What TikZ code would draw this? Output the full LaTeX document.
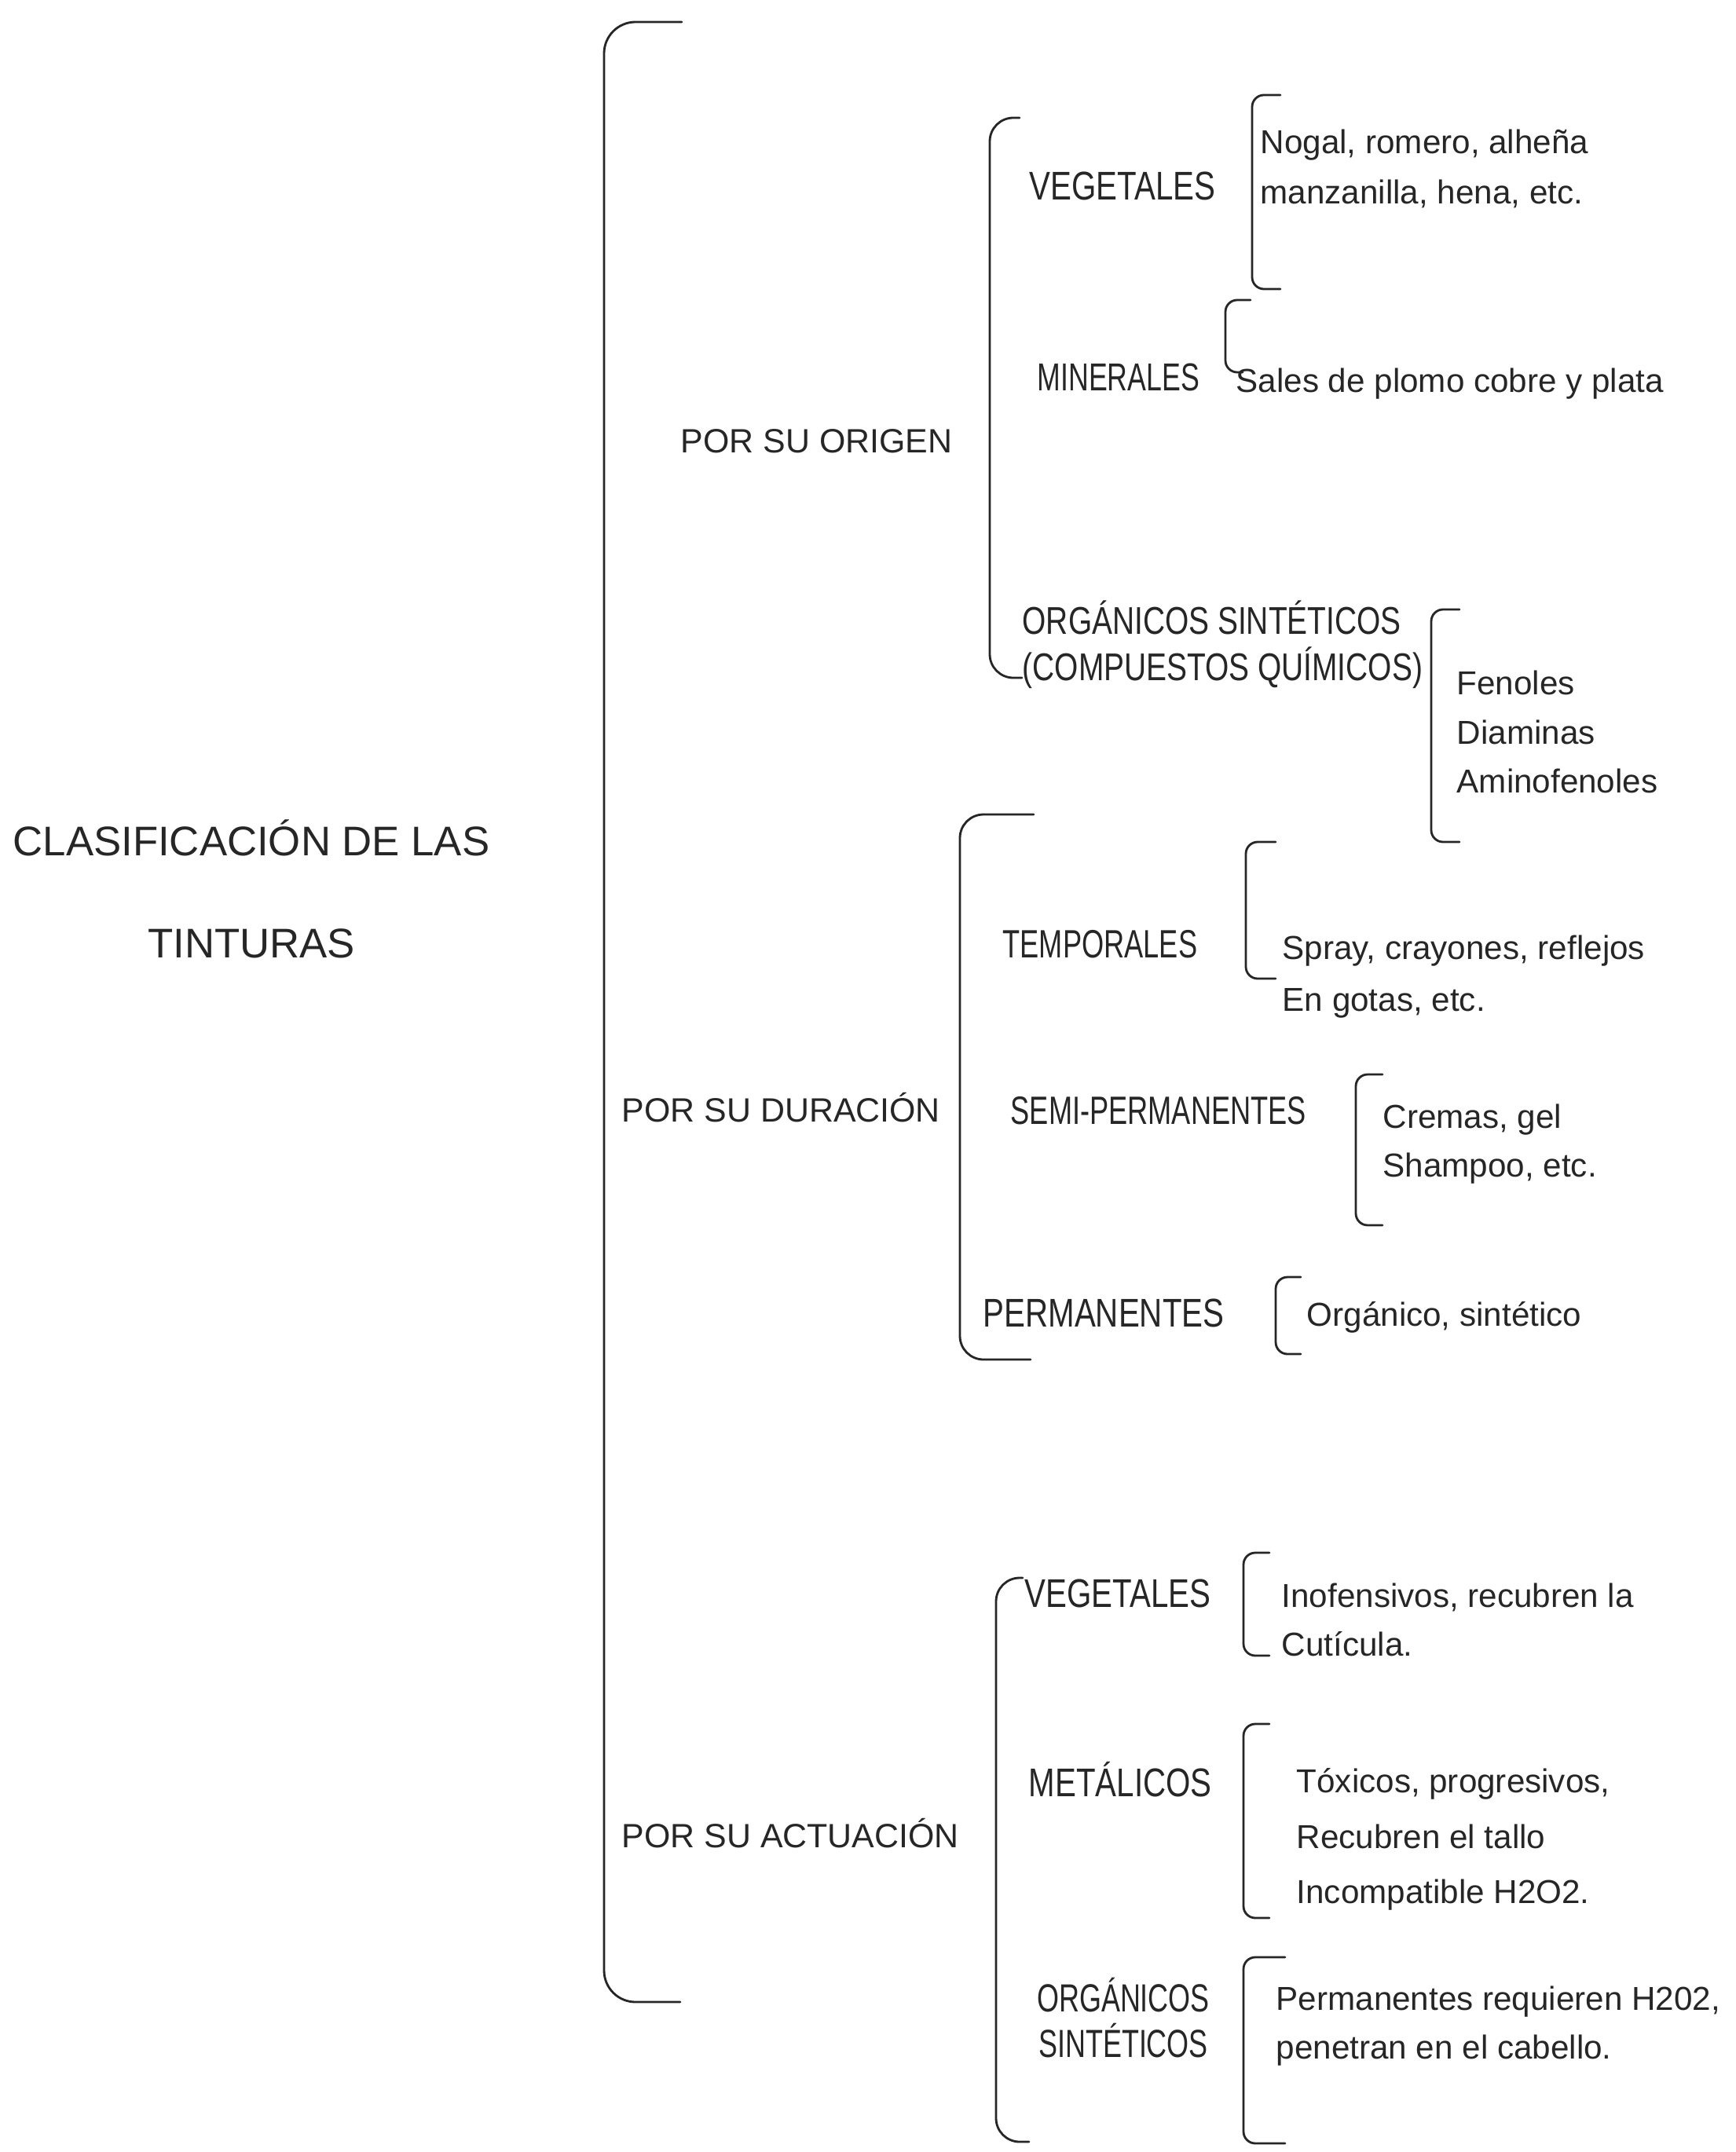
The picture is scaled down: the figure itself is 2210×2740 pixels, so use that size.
\documentclass[tikz,border=0pt]{standalone}
\usepackage{fontspec}
\setmainfont{Liberation Sans}
\newfontfamily\narrowfont{Liberation Sans}[FakeStretch=0.72]
\newfontfamily\semifont{Liberation Sans}[FakeStretch=0.79]
\usepackage{tikz}

\begin{document}
\begin{tikzpicture}
			[x=0.01cm,y=-0.01cm,line cap=round,
			%Styles
			title/.style={align=center,inner sep=0pt,text=inkcolor,font=\fontsize{15}{37}\selectfont},
			branch/.style={anchor=west,inner sep=0pt,text=inkcolor,font=\fontsize{12.2}{14}\selectfont},
			kind/.style={anchor=west,inner sep=0pt,text=inkcolor,font=\narrowfont\fontsize{14.3}{16.8}\selectfont},
			wide kind/.style={kind,font=\semifont\fontsize{14.5}{16.8}\selectfont},
			detail/.style={anchor=west,align=left,inner sep=0pt,text=inkcolor,font=\fontsize{12}{17.6}\selectfont},
			bracket/.style={draw=inkcolor,line width=0.8pt,rounded corners=#1},
			bracket/.default=1.5mm
			]
			
			%Colors
			\colorlet{inkcolor}{black!85}	%text and brackets
			
			\useasboundingbox (0,0) rectangle (2210,2740);
			
			%The graphic
			\node[title] (tinturas) at (320,1132) {CLASIFICACIÓN DE LAS\\TINTURAS};
			
			\node[branch] (origen) at (866,562) {POR SU ORIGEN};
			\node[branch] (duracion) at (791,1410) {POR SU DURACIÓN};
			\node[branch] (actuacion) at (791,2334) {POR SU ACTUACIÓN};
			
			% por su origen
			\node[wide kind] (vegetales) at (1310,237) {VEGETALES};
			\node[kind,font=\narrowfont\fontsize{14.1}{16.8}\selectfont] (minerales) at (1320,480) {MINERALES};
			\node[wide kind,align=left,font=\semifont\fontsize{14}{16.8}\selectfont] (organicos) at (1301,821) {ORGÁNICOS SINTÉTICOS\\(COMPUESTOS QUÍMICOS)};
			\node[detail,font=\fontsize{12}{18}\selectfont] (nogal) at (1604,215) {Nogal, romero, alheña\\manzanilla, hena, etc.};
			\node[detail] (sales) at (1573,489) {Sales de plomo cobre y plata};
			\node[detail,font=\fontsize{12}{17.8}\selectfont] (fenoles) at (1854,932) {Fenoles\\Diaminas\\Aminofenoles};
			
			% por su duracion
			\node[kind] (temporales) at (1276,1202) {TEMPORALES};
			\node[kind] (semiperm) at (1286,1414) {SEMI-PERMANENTES};
			\node[wide kind] (permanentes) at (1251,1672) {PERMANENTES};
			\node[detail,font=\fontsize{12}{18.8}\selectfont] (spray) at (1632,1244) {Spray, crayones, reflejos\\En gotas, etc.};
			\node[detail] (cremas) at (1760,1457) {Cremas, gel\\Shampoo, etc.};
			\node[detail] (sintetico) at (1663,1677) {Orgánico, sintético};
			
			% por su actuacion
			\node[wide kind] (vegetalesB) at (1304,2029) {VEGETALES};
			\node[wide kind] (metalicos) at (1309,2266) {METÁLICOS};
			\node[kind,anchor=center,align=center,font=\narrowfont\fontsize{14.2}{16.7}\selectfont] (organicosB) at (1430,2569) {ORGÁNICOS\\SINTÉTICOS};
			\node[detail] (inofensivos) at (1631,2062) {Inofensivos, recubren la\\Cutícula.};
			\node[detail,font=\fontsize{12}{20}\selectfont] (toxicos) at (1650,2342) {Tóxicos, progresivos,\\Recubren el tallo\\Incompatible H2O2.};
			\node[detail] (requieren) at (1624,2580) {Permanentes requieren H202,\\penetran en el cabello.};
			
			% brackets
			\draw[bracket=4mm] (868,28) -- (769,28) -- (769,2549) -- (866,2549);
			\draw[bracket=3mm] (1298,150) -- (1260,150) -- (1260,863) -- (1301,863);
			\draw[bracket=3mm] (1316,1037) -- (1222,1037) -- (1222,1731) -- (1312,1731);
			\draw[bracket=3mm] (1302,2009) -- (1268,2009) -- (1268,2727) -- (1310,2727);
			
			\draw[bracket] (1630,121) -- (1594,121) -- (1594,368) -- (1630,368);
			\draw[bracket] (1592,382) -- (1560,382) -- (1560,474) -- (1582,474);
			\draw[bracket] (1858,776) -- (1822,776) -- (1822,1072) -- (1858,1072);
			\draw[bracket] (1624,1072) -- (1586,1072) -- (1586,1246) -- (1624,1246);
			\draw[bracket] (1760,1368) -- (1726,1368) -- (1726,1560) -- (1760,1560);
			\draw[bracket] (1656,1626) -- (1624,1626) -- (1624,1724) -- (1656,1724);
			\draw[bracket] (1616,1977) -- (1583,1977) -- (1583,2108) -- (1616,2108);
			\draw[bracket] (1616,2195) -- (1583,2195) -- (1583,2442) -- (1616,2442);
			\draw[bracket] (1636,2492) -- (1583,2492) -- (1583,2729) -- (1636,2729);
		\end{tikzpicture}
\end{document}
